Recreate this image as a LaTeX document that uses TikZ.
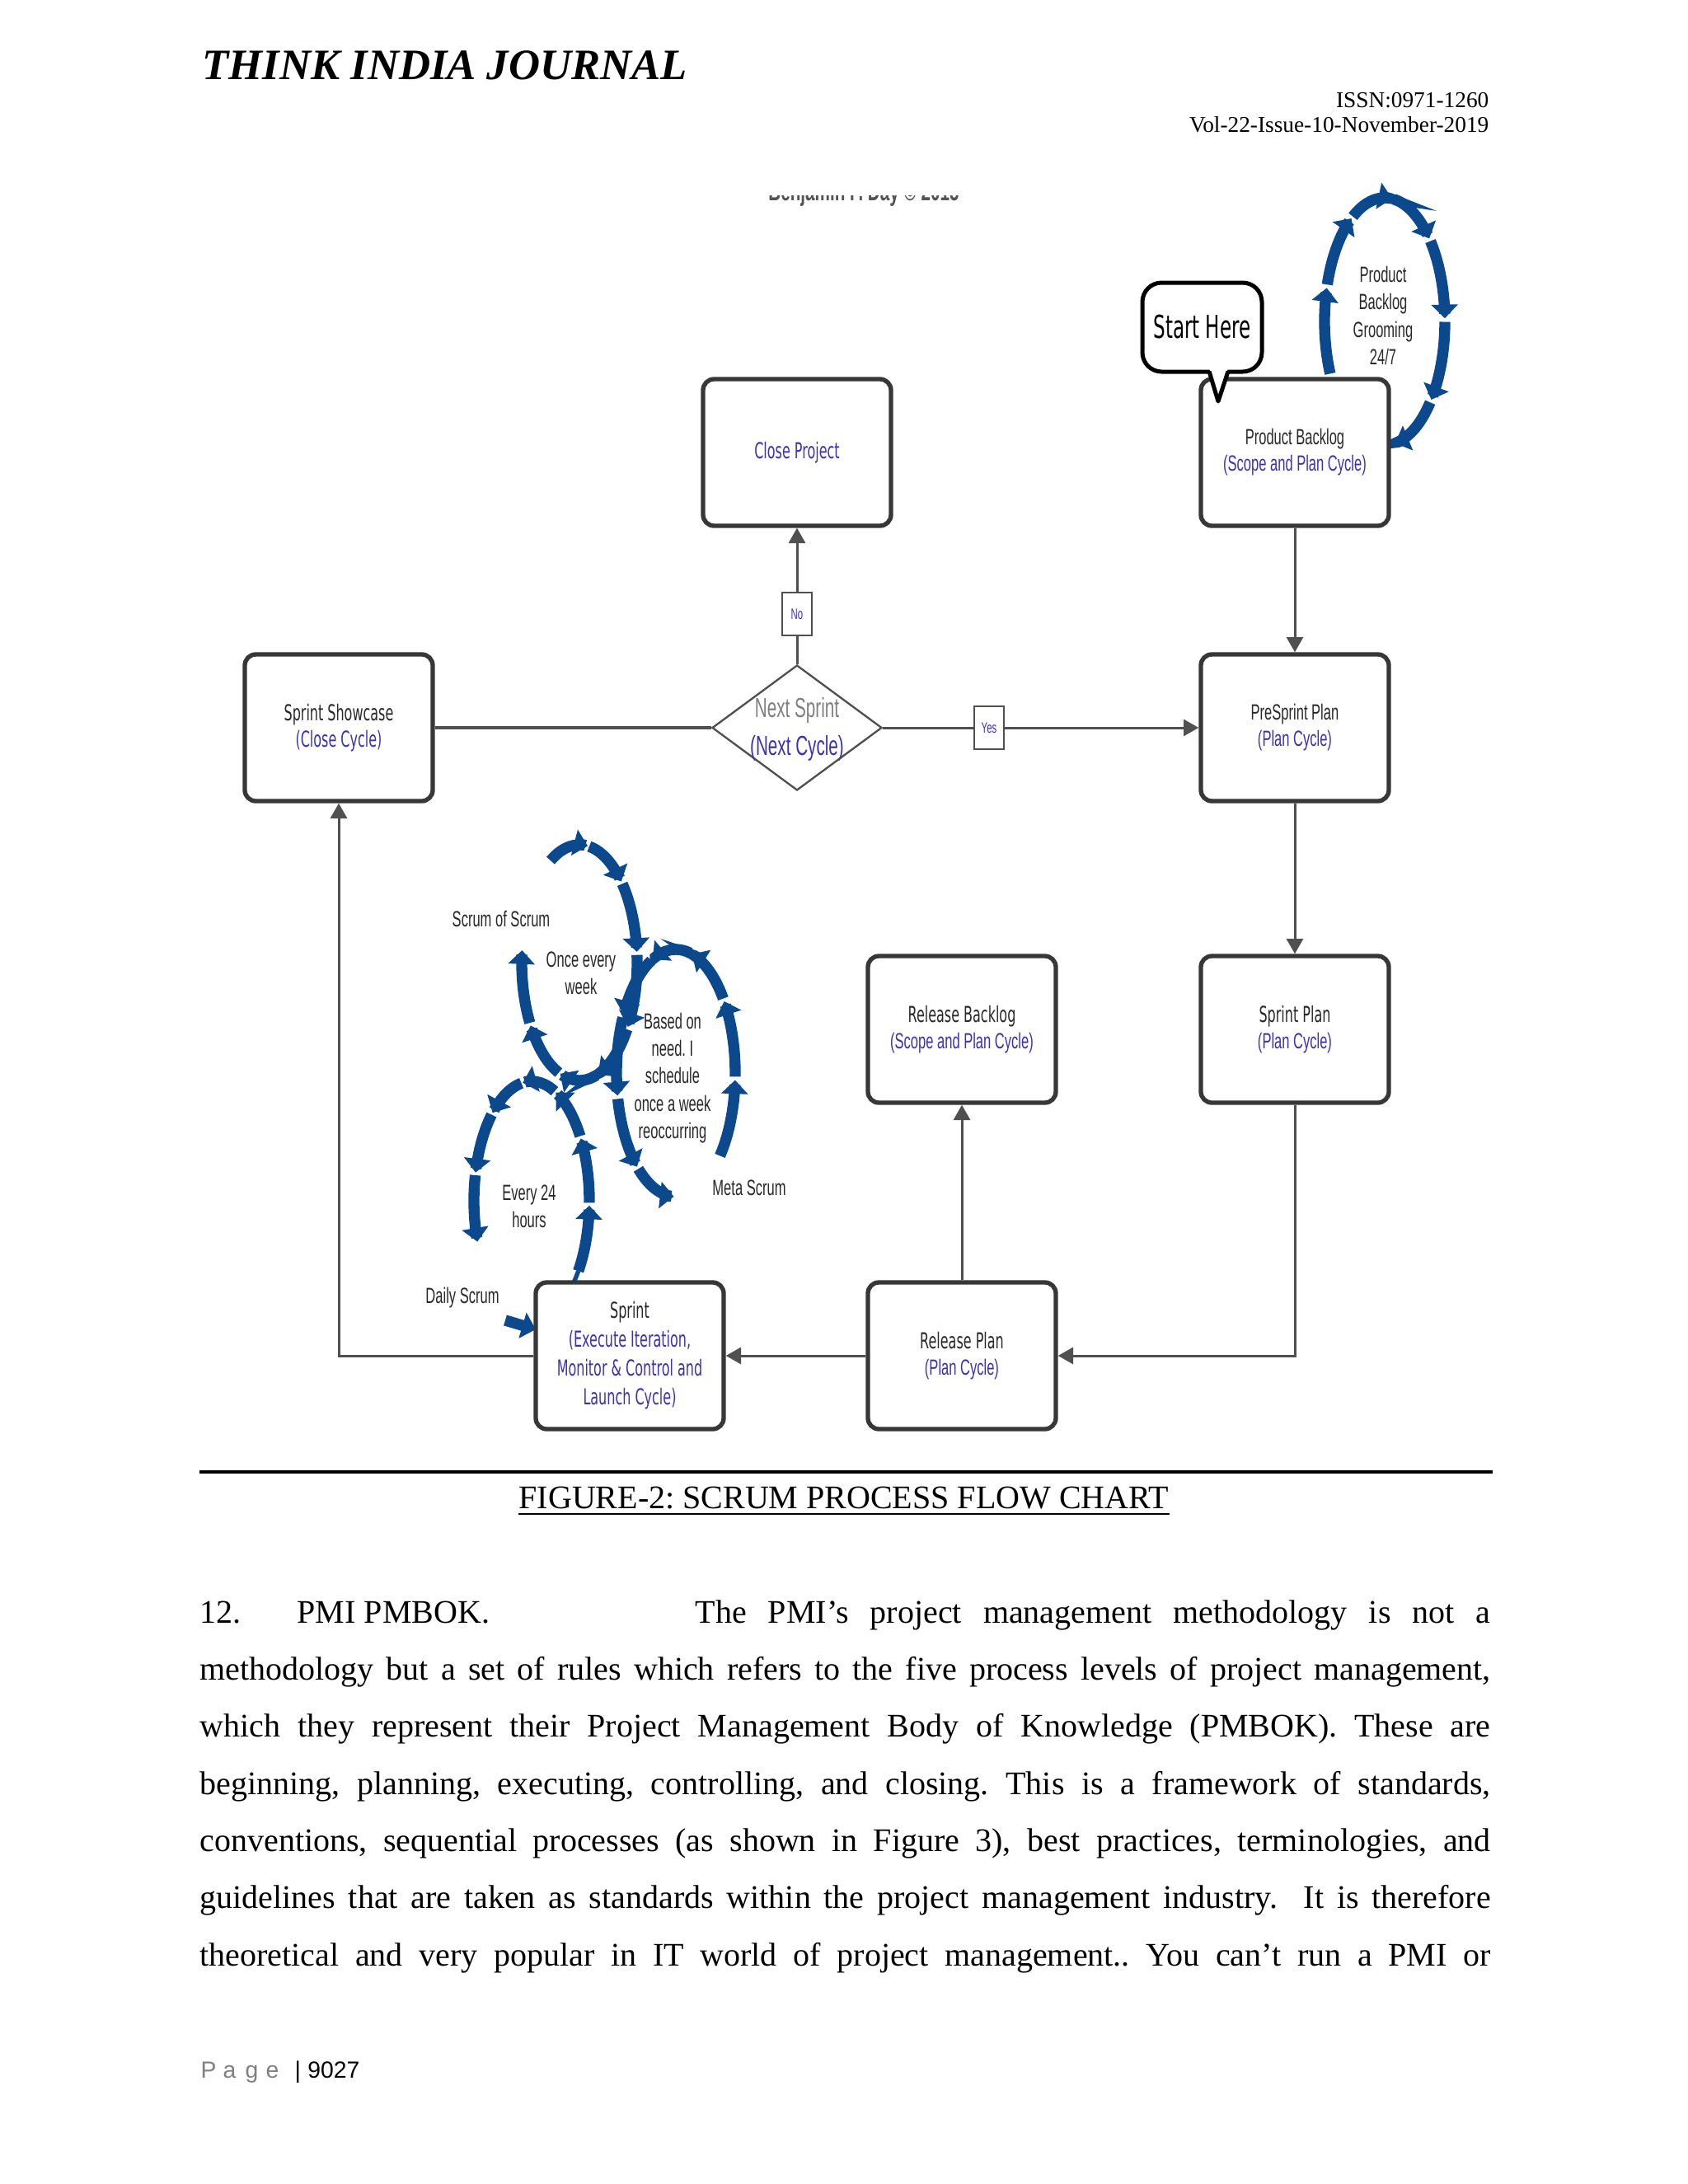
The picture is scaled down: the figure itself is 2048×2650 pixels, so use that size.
\documentclass[tikz,border=0pt]{standalone}
\usepackage{fontspec}
\setmainfont{Liberation Serif}
\newfontfamily\figA[FakeStretch=0.6]{DejaVu Sans}
\newfontfamily\figB[FakeStretch=0.62]{Liberation Sans}
\newfontfamily\footfont{Liberation Sans}
\usetikzlibrary{arrows.meta,shapes.geometric,calc}
\definecolor{blu}{RGB}{60,50,175}
\definecolor{arcblue}{RGB}{12,72,140}
\definecolor{boxgray}{RGB}{55,55,55}
\definecolor{linegray}{RGB}{80,80,80}
\definecolor{titlegray}{RGB}{40,40,40}
\tikzset{
  box/.style={draw=boxgray, line width=1.6pt, rounded corners=4pt, fill=white,
    minimum width=68.4pt, minimum height=53.4pt, align=center, inner sep=1pt,
    font=\fontsize{8}{9.6}\selectfont},
  conn/.style={draw=linegray, line width=0.9pt},
  arr/.style={conn, -{Triangle[length=5.5pt,width=6pt]}},
  tagbox/.style={draw=linegray, line width=0.6pt, fill=white, minimum width=10.8pt,
    minimum height=15.6pt, inner sep=0pt, font=\figB\fontsize{5.5}{6}\selectfont, text=blu},
  bluearc/.style={draw=arcblue, line width=4pt, -{Triangle[length=5pt,width=9.5pt]}},
  cyclabel/.style={font=\figB\fontsize{8}{10}\selectfont, text=titlegray, align=center, inner sep=0pt},
  bodyline/.style={anchor=base west, inner sep=0pt, font=\fontsize{12}{14}\selectfont},
}
\newcommand\scrumcycle[7]{%
  \pgfmathsetmacro\scStep{(#6-#5)/#7}%
  \foreach \k in {1,...,#7}{%
    \pgfmathsetmacro\scS{#5+(\k-1)*\scStep+(\k>1)*0.04*\scStep}%
    \pgfmathsetmacro\scE{#5+\k*\scStep}%
    \draw[bluearc] plot[domain=0:1, samples=12, smooth]
      ({#1+#3*cos(\scS+(\scE-\scS)*\x)},{#2+#4*sin(\scS+(\scE-\scS)*\x)});
  }}
\frenchspacing
\begin{document}
\begin{tikzpicture}[x=0.3pt,y=-0.3pt]
\useasboundingbox (0,0) rectangle (2048,2650);
\fill[white] (0,0) rectangle (2048,2650);

% header
\node[anchor=base west, inner sep=0pt, font=\fontsize{15.8}{18}\selectfont\bfseries\itshape] (jt) at (245,96) {THINK INDIA JOURNAL};
\node[anchor=base east, inner sep=0pt, font=\fontsize{8.2}{9}\selectfont] (issn) at (1807,130) {ISSN:0971-1260};
\node[anchor=base east, inner sep=0pt, font=\fontsize{8.2}{9}\selectfont] (vol) at (1807,160) {Vol-22-Issue-10-November-2019};

% clipped fragment at top of figure
\begin{scope}
\clip (900,237) rectangle (1200,250);
\node[font=\figB\bfseries\fontsize{10}{11}\selectfont, text=titlegray!80, inner sep=0pt, anchor=base] (frag) at (1048,243) {Benjamin F. Day \textcopyright{} 2015};
\end{scope}

% blue cycles
\scrumcycle{1680}{390}{73}{150}{155}{440}{7}
\scrumcycle{703}{1168}{70}{143}{240}{546}{8}
\scrumcycle{820}{1302}{72}{150}{42}{-268}{8}
\draw[draw=arcblue, line width=1.6pt] plot[domain=0:1, samples=6, smooth]
  ({645+70*cos(44-8*\x)},{1457+145*sin(44-8*\x)});
\scrumcycle{645}{1457}{70}{145}{36}{-200}{7}
\coordinate (dsA) at (613,1602);
\coordinate (dsB) at (650,1613);
\draw[bluearc] (dsA) -- (dsB);

% cycle labels
\node[cyclabel] (grl) at (1678,383) {Product\\Backlog\\Grooming\\24/7};
\node[cyclabel] (sosl) at (608,1115) {Scrum of Scrum};
\node[cyclabel] (oncel) at (705,1181) {Once every\\week};
\node[cyclabel] (basel) at (816,1308) {Based on\\need. I\\schedule\\once a week\\reoccurring};
\node[cyclabel] (metal) at (909,1441) {Meta Scrum};
\node[cyclabel] (e24l) at (642,1464) {Every 24\\hours};
\node[cyclabel] (dsl) at (561,1575) {Daily Scrum};

% boxes
\node[box] (cp) at (967,549) {{\figA\color{blu}Close Project}};
\node[box] (pb) at (1571,549) {{\figB\color{titlegray}Product Backlog}\\{\figB\color{blu}(Scope and Plan Cycle)}};
\node[box] (ss) at (411,883) {{\figA\color{titlegray}Sprint Showcase}\\{\figA\color{blu}(Close Cycle)}};
\node[box] (ps) at (1571,883) {{\figB\color{titlegray}PreSprint Plan}\\{\figB\color{blu}(Plan Cycle)}};
\node[box] (rb) at (1167,1249) {{\figA\color{titlegray}Release Backlog}\\{\figB\color{blu}(Scope and Plan Cycle)}};
\node[box] (sp) at (1571,1249) {{\figA\color{titlegray}Sprint Plan}\\{\figB\color{blu}(Plan Cycle)}};
\node[box, font=\fontsize{8}{10.5}\selectfont] (spr) at (764,1645) {{\figA\color{titlegray}Sprint}\\{\figA\color{blu}(Execute Iteration,}\\{\figA\color{blu}Monitor \& Control and}\\{\figA\color{blu}Launch Cycle)}};
\node[box] (rp) at (1167,1645) {{\figA\color{titlegray}Release Plan}\\{\figB\color{blu}(Plan Cycle)}};

% decision
\node[diamond, draw=linegray, line width=0.7pt, fill=white, minimum width=61.8pt, minimum height=45.6pt, inner sep=0pt] (ns) at (967,883) {};
\node[align=center, inner sep=0pt, font=\figB\fontsize{10}{13.7}\selectfont] (nsl) at (967,885) {{\color{gray}Next Sprint}\\{\color{blu}(Next Cycle)}};

% tags
\node[tagbox] (no) at (967,745) {No};
\node[tagbox] (yes) at (1200,883) {Yes};

% start here callout
\node[draw=black, line width=1.5pt, rounded corners=7pt, fill=white, minimum width=43.5pt, minimum height=32.4pt, inner sep=0pt, font=\figA\fontsize{11.5}{12}\selectfont] (sh) at (1458.5,397) {Start Here};
\coordinate (tip) at (1478,487);
\fill[white] (1467,446) -- (tip) -- (1490,446) -- cycle;
\draw[line width=1.5pt, line join=round] (1467,450.5) -- (tip) -- (1490,450.5);

% connectors
\draw[conn] (ns.north) -- (no.south);
\draw[arr] (no.north) -- (cp.south);
\draw[conn, line width=1.2pt] (ss.east) -- (ns.west);
\draw[conn] (ns.east) -- (yes.west);
\draw[arr] (yes.east) -- (ps.west);
\draw[arr] (pb.south) -- (ps.north);
\draw[arr] (ps.south) -- (sp.north);
\draw[arr] (sp.south) |- (rp.east);
\draw[arr] (rp.west) -- (spr.east);
\draw[arr] (rp.north) -- (rb.south);
\draw[arr] (spr.west) -| (ss.south);

% rule and caption
\draw[line width=1pt] (242,1786) -- (1811,1786);
\node[anchor=base, inner sep=0pt, font=\fontsize{12}{14}\selectfont] (cap) at (1024,1830) {FIGURE-2: SCRUM PROCESS FLOW CHART};
\draw[line width=0.6pt] ([yshift=-2pt]cap.base west) -- ([yshift=-2pt]cap.base east);

% body text
\node[bodyline] (l1a) at (242,1969) {12.};
\node[bodyline] (l1b) at (360,1969) {PMI PMBOK.};
\node[bodyline] (l1c) at (843,1969) {\makebox[289.5pt][s]{The PMI’s project management methodology is not a}};
\node[bodyline] (l2) at (242,2038) {\makebox[469.8pt][s]{methodology but a set of rules which refers to the five process levels of project management,}};
\node[bodyline] (l3) at (242,2107) {\makebox[469.8pt][s]{which they represent their Project Management Body of Knowledge (PMBOK). These are}};
\node[bodyline] (l4) at (242,2177) {\makebox[469.8pt][s]{beginning, planning, executing, controlling, and closing. This is a framework of standards,}};
\node[bodyline] (l5) at (242,2246) {\makebox[469.8pt][s]{conventions, sequential processes (as shown in Figure 3), best practices, terminologies, and}};
\node[bodyline] (l6) at (242,2315) {\makebox[469.8pt][s]{guidelines that are taken as standards within the project management industry.\ \ It is therefore}};
\node[bodyline] (l7) at (242,2385) {\makebox[469.8pt][s]{theoretical and very popular in IT world of project management.. You can’t run a PMI or}};

% footer
\node[anchor=base west, inner sep=0pt, font=\footfont\fontsize{8.5}{10}\selectfont, text=gray] (pg) at (243,2521) {\makebox[8.1pt][l]{P}\makebox[8.1pt][l]{a}\makebox[7.5pt][l]{g}e};
\node[anchor=base west, inner sep=0pt, font=\footfont\fontsize{8.5}{10}\selectfont] (pnum) at (357,2521) {|\hspace{2.5pt}9027};
\end{tikzpicture}
\end{document}
